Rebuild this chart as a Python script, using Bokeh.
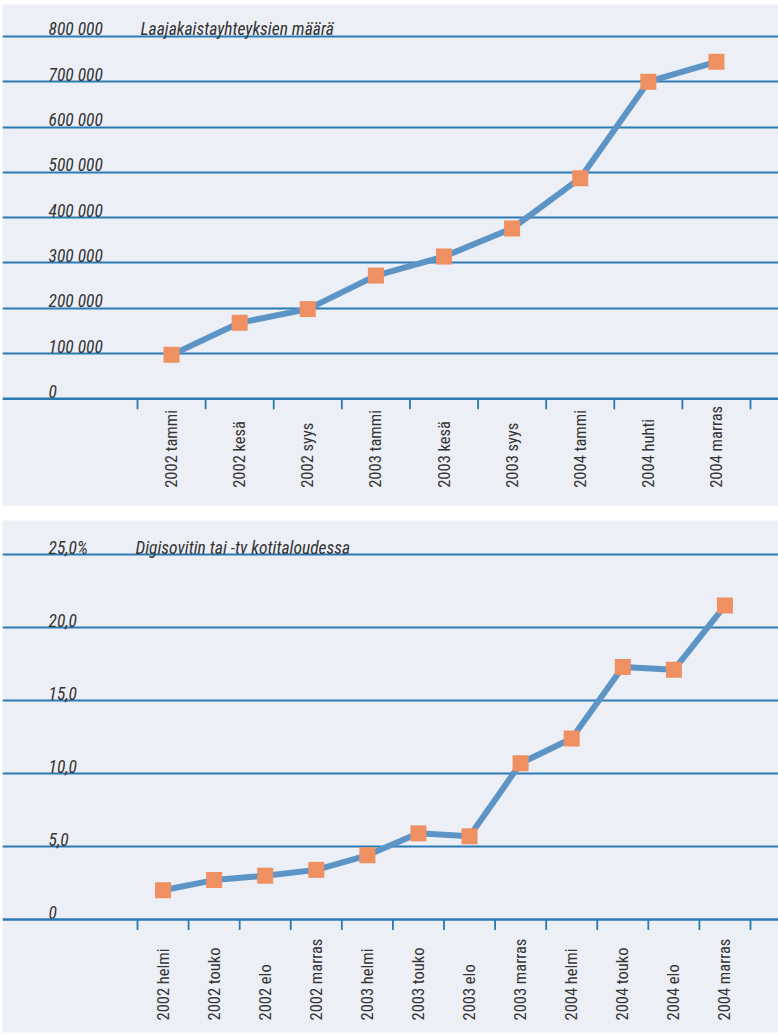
import math

from bokeh.core.properties import value
from bokeh.embed import file_html
from bokeh.layouts import column
from bokeh.models import ColumnDataSource, FixedTicker, Grid, Span
from bokeh.plotting import figure
from bokeh.resources import INLINE

# ---------------------------------------------------------------- data
broadband_months = ["2002 tammi", "2002 kesä", "2002 syys", "2003 tammi", "2003 kesä",
                    "2003 syys", "2004 tammi", "2004 huhti", "2004 marras"]
broadband_connections = [97000, 168000, 198000, 272000, 314000, 376000, 487000, 700000, 744000]
broadband_ticks = [0, 100000, 200000, 300000, 400000, 500000, 600000, 700000, 800000]
broadband_tick_labels = ["0", "100 000", "200 000", "300 000", "400 000",
                         "500 000", "600 000", "700 000", "800 000"]
broadband_title = "Laajakaistayhteyksien määrä"

digibox_months = ["2002 helmi", "2002 touko", "2002 elo", "2002 marras", "2003 helmi", "2003 touko",
                  "2003 elo", "2003 marras", "2004 helmi", "2004 touko", "2004 elo", "2004 marras"]
digibox_share = [2.0, 2.7, 3.0, 3.4, 4.4, 5.9, 5.7, 10.7, 12.4, 17.3, 17.1, 21.5]
digibox_ticks = [0, 5, 10, 15, 20, 25]
digibox_tick_labels = ["0", "5,0", "10,0", "15,0", "20,0", "25,0%"]
digibox_title = "Digisovitin tai -tv kotitaloudessa"

# ---------------------------------------------------------------- style
PAGE_W = 778
FRAME_LEFT, FRAME_RIGHT = 2, 778          # panel extent on the page (px)
AXIS_LEFT, AXIS_RIGHT = 137, 750          # extent of the category axis (px)
LABEL_X = 48                              # left edge of value labels (px)

PANEL_BG = "#ECEFF6"
GRID_COLOR = "#2A7AB4"
LINE_COLOR = "#5D94C6"
MARKER_COLOR = "#EE9062"
TEXT_COLOR = "#333333"
FONT = "Roboto Condensed, Roboto, Liberation Sans, sans-serif"


def make_panel(categories, values, ticks, tick_labels, title, *, height, border_top,
               border_bottom, zero_from_top, px_per_unit, label_drop, title_x):
    n = len(categories)
    ppx = (AXIS_RIGHT - AXIS_LEFT) / n
    x_start = -0.5 - (AXIS_LEFT - FRAME_LEFT) / ppx
    x_end = n - 0.5 + (FRAME_RIGHT - AXIS_RIGHT) / ppx

    frame_h = height - border_top - border_bottom
    y_end = zero_from_top / px_per_unit
    y_start = -(frame_h - zero_from_top) / px_per_unit

    p = figure(width=PAGE_W, height=height, x_range=(x_start, x_end), y_range=(y_start, y_end),
               x_axis_type=None, y_axis_type=None, toolbar_location=None,
               output_backend="svg", min_border_left=FRAME_LEFT, min_border_right=0,
               min_border_top=border_top, min_border_bottom=border_bottom)
    p.background_fill_color = PANEL_BG
    p.border_fill_color = "white"
    p.outline_line_color = None

    # horizontal value lines across the whole panel
    p.add_layout(Grid(dimension=1, ticker=FixedTicker(ticks=ticks[1:]),
                      grid_line_color=GRID_COLOR, grid_line_width=1.8))
    p.add_layout(Span(location=0, dimension="width", line_color=GRID_COLOR, line_width=2.4))

    # value labels sit just above their lines
    lift = 7 / px_per_unit
    lab_x = x_start + (LABEL_X - FRAME_LEFT) / ppx
    p.text(x=[lab_x] * len(ticks), y=[t + lift for t in ticks], text=tick_labels,
           text_font=value(FONT), text_font_style="italic", text_font_size="17.5px",
           text_color=TEXT_COLOR, text_align="left", text_baseline="alphabetic")
    p.text(x=[x_start + (title_x - FRAME_LEFT) / ppx], y=[ticks[-1] + lift], text=[title],
           text_font=value(FONT), text_font_style="italic", text_font_size="17.5px",
           text_color=TEXT_COLOR, text_align="left", text_baseline="alphabetic")

    # category ticks hanging from the zero line
    bounds = [i - 0.5 for i in range(n + 1)]
    p.segment(x0=bounds, y0=[0] * len(bounds), x1=bounds, y1=[-10.5 / px_per_unit] * len(bounds),
              line_color=GRID_COLOR, line_width=1.8)

    # rotated category names
    idx = list(range(n))
    p.text(x=idx, y=[-label_drop / px_per_unit] * n, text=categories, angle=math.pi / 2,
           text_font=value(FONT), text_font_size="16.5px", text_color=TEXT_COLOR,
           text_align="left", text_baseline="middle")

    src = ColumnDataSource(data=dict(x=idx, y=values, label=categories))
    p.line("x", "y", source=src, line_color=LINE_COLOR, line_width=6, line_join="round")
    p.scatter("x", "y", source=src, marker="square", size=16,
              fill_color=MARKER_COLOR, line_color=None)
    return p


top = make_panel(broadband_months, broadband_connections, broadband_ticks, broadband_tick_labels,
                 broadband_title, height=506, border_top=4, border_bottom=0,
                 zero_from_top=394.3, px_per_unit=45.3 / 100000, label_drop=89, title_x=140)
bottom = make_panel(digibox_months, digibox_share, digibox_ticks, digibox_tick_labels,
                    digibox_title, height=529, border_top=14, border_bottom=3,
                    zero_from_top=399, px_per_unit=14.6, label_drop=101, title_x=135)

layout = column(top, bottom, spacing=0)
open("out.html", "w").write(file_html(layout, INLINE))
